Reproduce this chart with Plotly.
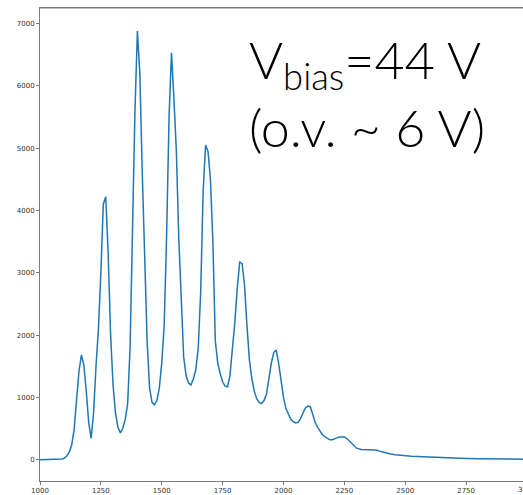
import plotly.graph_objects as go

# ADC channel (x) and counts (y)
channel = [1000, 1010, 1020, 1030, 1040, 1050, 1060, 1070, 1080, 1090,
           1100, 1110, 1120, 1130, 1140, 1150, 1160, 1170, 1180, 1190,
           1200, 1210, 1220, 1230, 1240, 1250, 1260, 1270, 1280, 1290,
           1300, 1310, 1320, 1330, 1340, 1350, 1360, 1370, 1380, 1390,
           1400, 1410, 1420, 1430, 1440, 1450, 1460, 1470, 1480, 1490,
           1500, 1510, 1520, 1530, 1540, 1550, 1560, 1570, 1580, 1590,
           1600, 1610, 1620, 1630, 1640, 1650, 1660, 1670, 1680, 1690,
           1700, 1710, 1720, 1730, 1740, 1750, 1760, 1770, 1780, 1790,
           1800, 1810, 1820, 1830, 1840, 1850, 1860, 1870, 1880, 1890,
           1900, 1910, 1920, 1930, 1940, 1950, 1960, 1970, 1980, 1990,
           2000, 2010, 2020, 2030, 2040, 2050, 2060, 2070, 2080, 2090,
           2100, 2110, 2120, 2130, 2140, 2150, 2160, 2170, 2180, 2190,
           2200, 2210, 2220, 2230, 2240, 2250, 2260, 2270, 2280, 2290,
           2300, 2320, 2340, 2360, 2380, 2400, 2420, 2440, 2460, 2480,
           2500, 2525, 2550, 2600, 2650, 2700, 2750, 2800, 2850, 2900,
           2950, 3000]
counts = [0, 0, 0, 0, 0, 0, 0, 2, 4, 10,
          25, 60, 120, 230, 480, 950, 1420, 1680, 1520, 1100,
          600, 340, 750, 1500, 2100, 3000, 4100, 4220, 3300, 2000,
          1200, 750, 520, 430, 500, 650, 900, 1800, 3700, 5600,
          6880, 6200, 4600, 3100, 1900, 1150, 920, 880, 950, 1150,
          1550, 2150, 3600, 5500, 6530, 5800, 4950, 3550, 2600, 1650,
          1350, 1230, 1200, 1300, 1450, 1800, 2700, 4300, 5050, 4950,
          4500, 3500, 1900, 1550, 1380, 1250, 1180, 1170, 1350, 1750,
          2200, 2750, 3170, 3150, 2800, 2150, 1600, 1300, 1100, 980,
          920, 900, 950, 1050, 1300, 1550, 1720, 1760, 1550, 1250,
          1000, 820, 720, 650, 610, 590, 600, 660, 750, 830,
          860, 850, 730, 600, 520, 450, 400, 370, 340, 320,
          320, 330, 350, 365, 370, 365, 340, 300, 250, 210,
          185, 165, 160, 160, 155, 130, 105, 90, 80, 70,
          62, 55, 50, 40, 32, 24, 18, 14, 11, 9,
          8, 7]

x_ticks = [1000, 1250, 1500, 1750, 2000, 2250, 2500, 2750]
y_ticks = [0, 1000, 2000, 3000, 4000, 5000, 6000, 7000]

fig = go.Figure()
fig.add_trace(go.Scatter(x=channel, y=counts, mode="lines",
                         line=dict(color="#1f77b4", width=1.5),
                         showlegend=False, hoverinfo="skip"))

axis_common = dict(showgrid=False, zeroline=False, showline=True,
                   linecolor="#7a7a7a", linewidth=1,
                   ticks="outside", ticklen=3, tickwidth=1, tickcolor="#7a7a7a",
                   tickfont=dict(family="DejaVu Sans", size=7, color="#333333"))

fig.update_xaxes(range=[1000, 2983.6], tickvals=x_ticks,
                 ticktext=[str(v) for v in x_ticks], mirror=True, **axis_common)
fig.update_yaxes(range=[-342, 7250], tickvals=y_ticks,
                 ticktext=[str(v) for v in y_ticks], **axis_common)

# top frame line (spine)
fig.add_shape(type="line", xref="paper", yref="paper", x0=0, x1=1, y0=1, y1=1,
              line=dict(color="#7a7a7a", width=1), layer="above")

# clipped "3000" label at the right edge
fig.add_annotation(x=1.0083, y=0, xref="paper", yref="paper", yshift=-3,
                   text="3000", showarrow=False, xanchor="center", yanchor="top",
                   font=dict(family="DejaVu Sans", size=7, color="#333333"))

fig.add_annotation(x=0.428, y=0.963, xref="paper", yref="paper",
                   text="V<sub>bias</sub>=44 V<br>(o.v. ~ 6 V)",
                   showarrow=False, xanchor="left", yanchor="top", align="left",
                   font=dict(family="Lato", size=52, color="#000000", weight=300))

fig.update_layout(width=523, height=495,
                  margin=dict(l=40, r=0, t=8, b=14),
                  paper_bgcolor="white", plot_bgcolor="white")

fig.write_html("out.html", config={"displayModeBar": False},
               post_script="document.body.style.margin='0';document.body.style.overflow='hidden';")
